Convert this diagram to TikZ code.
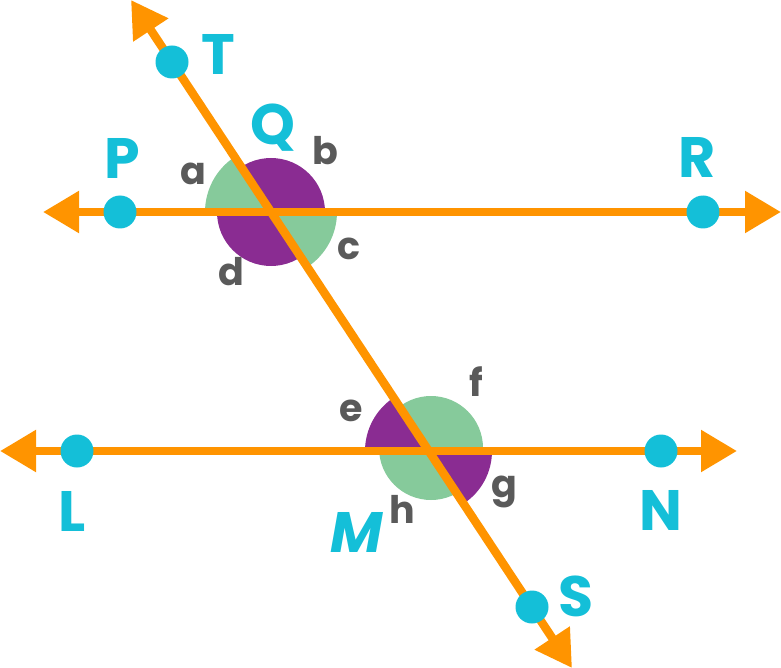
\documentclass[tikz,border=0pt]{standalone}
\usepackage{fontspec}
\setmainfont{Poppins}
\usetikzlibrary{arrows.meta,positioning}
\definecolor{lineorange}{HTML}{FF9400}
\definecolor{ptcyan}{HTML}{14BFD8}
\definecolor{anggreen}{HTML}{86CA9B}
\definecolor{angpurple}{HTML}{8A2C92}
\definecolor{anggrey}{HTML}{5A5A5A}
\tikzset{
  >={Triangle[length=36pt,width=40pt]},
  ray/.style={draw=lineorange,line width=8.5pt},
  dot/.style={circle,fill=ptcyan,minimum size=33pt,inner sep=0pt},
  ptlabel/.style={text=ptcyan,inner sep=0pt,font=\fontsize{57}{60}\selectfont\bfseries},
  anglabel/.style={text=anggrey,inner sep=0pt,font=\fontsize{38}{40}\selectfont\bfseries},
}
\def\tang{123.5}

\begin{document}
\begin{tikzpicture}[x=1pt,y=-1pt]

      \useasboundingbox (0,0) rectangle (781,668);

      % intersections and ray ends
      \coordinate (Q) at (271,212);
      \coordinate (M) at (429,451);
      \coordinate (endP) at (43,212);
      \coordinate (endR) at (781,212);
      \coordinate (endL) at (0,451);
      \coordinate (endN) at (737,451);
      \coordinate (endT) at (131,0);
      \coordinate (endS) at (572,668);

      % angle marks at Q
      \fill[angpurple] (Q) circle[radius=54pt];
      \fill[anggreen] (Q) -- ++(\tang:66pt) arc[start angle=\tang,end angle=180,radius=66pt] -- cycle;
      \fill[anggreen] (Q) -- ++(\tang+180:66pt) arc[start angle=\tang+180,end angle=360,radius=66pt] -- cycle;

      % angle marks at M
      \fill[anggreen] (431,448) circle[radius=52pt];
      \fill[angpurple] (M) -- ++(\tang:64pt) arc[start angle=\tang,end angle=180,radius=64pt] -- cycle;
      \fill[angpurple] (M) -- ++(\tang+180:63pt) arc[start angle=\tang+180,end angle=360,radius=63pt] -- cycle;

      % lines
      \draw[ray,<->] (endP) -- (endR);
      \draw[ray,<->] (endL) -- (endN);
      \draw[ray,<->] (endT) -- (endS);

      % points
      \node[dot] (T) at (172,62) {};
      \node[dot] (P) at (120,212) {};
      \node[dot] (R) at (703,212) {};
      \node[dot] (L) at (77,451) {};
      \node[dot] (N) at (661,451) {};
      \node[dot] (S) at (532,607) {};

      \node[ptlabel] (lblT) at (218,54) {T};
      \node[ptlabel] (lblP) at (122,158) {P};
      \node[ptlabel] (lblQ) at (273,128) {Q};
      \node[ptlabel] (lblR) at (697,157) {R};
      \node[ptlabel] (lblL) at (72,511) {L};
      \node[ptlabel] (lblM) at (357,532) {\itshape M};
      \node[ptlabel] (lblN) at (661,510) {N};
      \node[ptlabel] (lblS) at (576,596) {S};

      \node[anglabel] (a) at (193,174) {a};
      \node[anglabel] (b) at (325,151) {b};
      \node[anglabel] (c) at (349,249) {c};
      \node[anglabel] (d) at (231,272) {d};
      \node[anglabel] (e) at (351,411) {e};
      \node[anglabel] (f) at (476,382) {f};
      \node[anglabel] (g) at (504,492) {g};
      \node[anglabel] (h) at (402,509) {h};

\end{tikzpicture}
\end{document}
